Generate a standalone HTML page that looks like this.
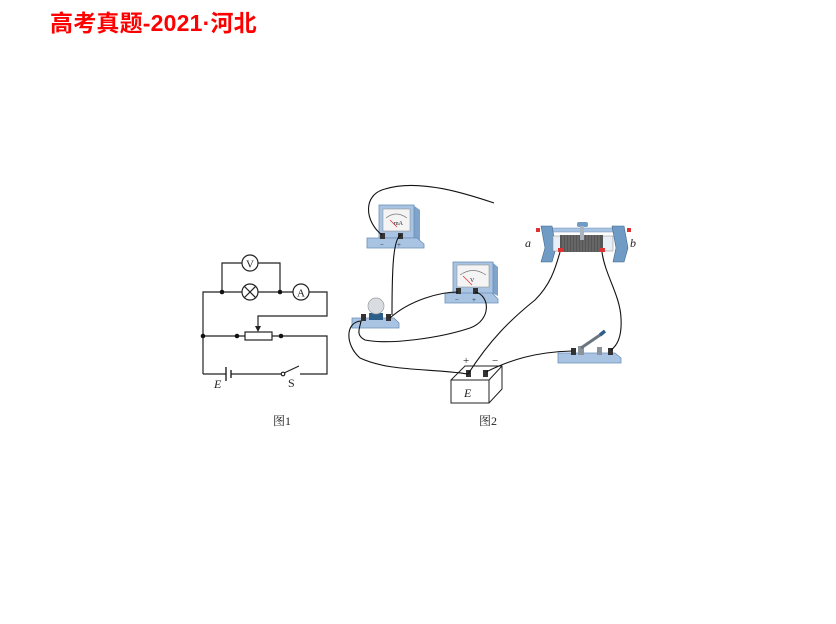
<!DOCTYPE html>
<html><head><meta charset="utf-8"><style>
html,body{margin:0;padding:0;background:#fff;width:836px;height:624px;overflow:hidden}
</style></head><body>
<svg width="836" height="624" viewBox="0 0 836 624" xmlns="http://www.w3.org/2000/svg" font-family="'Liberation Serif','Noto Serif CJK SC',serif">
<text x="50" y="31" font-family="'Liberation Sans','Noto Sans CJK SC',sans-serif" font-weight="bold" font-size="23" letter-spacing="0.2" fill="#ff0000">高考真题-2021·河北</text>

<!-- Figure 1 -->
<g stroke="#222" stroke-width="1.2" fill="none">
<path d="M222 292 V263 H242 M258 263 H280 V292"/>
<circle cx="250" cy="263" r="8" fill="#fff"/>
<path d="M203 374 V292 H242 M258 292 H293 M309 292 H327 V316 H258 V328"/>
<circle cx="250" cy="292" r="8" fill="#fff"/>
<path d="M244.5 286.5 L255.5 297.5 M255.5 286.5 L244.5 297.5"/>
<circle cx="301" cy="292" r="8" fill="#fff"/>
<path d="M203 336 H245 M272 336 H327 V374 H300 M283 374 H231 M226 374 H203"/>
<rect x="245" y="332" width="27" height="8" fill="#fff"/>
<path d="M226 367 V381 M231 370 V378" stroke-width="1.4"/>
<path d="M284 373 L299 366"/>
<circle cx="283" cy="374" r="1.8" fill="#fff"/>
</g>
<path d="M255 326 L261 326 L258 332 Z" fill="#222"/>
<g fill="#111">
<circle cx="222" cy="292" r="2.3"/><circle cx="280" cy="292" r="2.3"/>
<circle cx="203" cy="336" r="2.3"/><circle cx="237" cy="336" r="2.3"/><circle cx="281" cy="336" r="2.3"/>
</g>
<text x="250" y="267.5" font-size="11" text-anchor="middle" fill="#222">V</text>
<text x="301" y="296.5" font-size="11" text-anchor="middle" fill="#222">A</text>
<text x="214" y="388" font-size="12" font-style="italic" fill="#222">E</text>
<text x="288" y="387" font-size="12" fill="#222">S</text>
<text x="273" y="425" font-size="12" fill="#222">图1</text>

<!-- Figure 2 -->
<g>
<path d="M413 205 L420 210 L420 240 L413 237 Z" fill="#7fa3c9"/>
<rect x="379" y="205" width="35" height="33" fill="#a9c4e2" stroke="#6b8fb8" stroke-width="0.8"/>
<rect x="383" y="209" width="27" height="22" fill="#f4f4f4" stroke="#888" stroke-width="0.5"/>
<path d="M386 218 Q396 210 407 218" stroke="#777" fill="none" stroke-width="0.7"/>
<text x="394" y="225" font-size="6" fill="#222">mA</text>
<path d="M390 220 L397 227" stroke="#d33" stroke-width="0.8"/>
<path d="M367 238 L417 238 L424 244 L424 248 L367 248 Z" fill="#a9c4e2" stroke="#6b8fb8" stroke-width="0.8"/>
<rect x="380" y="233" width="5" height="6" fill="#333"/><rect x="398" y="233" width="5" height="6" fill="#333"/>
<text x="380" y="247" font-size="7" fill="#222">−</text><text x="397" y="247" font-size="7" fill="#222">+</text>
</g>
<g>
<path d="M492 262 L498 267 L498 296 L492 293 Z" fill="#7fa3c9"/>
<rect x="453" y="262" width="40" height="32" fill="#a9c4e2" stroke="#6b8fb8" stroke-width="0.8"/>
<rect x="457" y="265" width="32" height="22" fill="#f4f4f4" stroke="#888" stroke-width="0.5"/>
<path d="M460 275 Q473 266 486 275" stroke="#777" fill="none" stroke-width="0.7"/>
<text x="470" y="282" font-size="6" fill="#222">V</text>
<path d="M463 276 L472 285" stroke="#d33" stroke-width="0.8"/>
<path d="M445 293 L492 293 L498 299 L498 303 L445 303 Z" fill="#a9c4e2" stroke="#6b8fb8" stroke-width="0.8"/>
<rect x="456" y="288" width="5" height="6" fill="#333"/><rect x="473" y="288" width="5" height="6" fill="#333"/>
<text x="455" y="302" font-size="7" fill="#222">−</text><text x="472" y="302" font-size="7" fill="#222">+</text>
</g>
<g>
<path d="M352 318 L394 318 L399 323 L399 328 L352 328 Z" fill="#a9c4e2" stroke="#6b8fb8" stroke-width="0.8"/>
<rect x="369" y="313" width="14" height="7" fill="#2e5f8a"/>
<circle cx="376" cy="306" r="8" fill="#d9dde2" stroke="#999" stroke-width="0.7"/>
<rect x="361" y="314" width="5" height="7" fill="#333"/><rect x="386" y="314" width="5" height="7" fill="#333"/>
</g>
<g>
<rect x="545" y="228" width="78" height="4" fill="#a9c4e2" stroke="#6b8fb8" stroke-width="0.5"/>
<path d="M541 226 L552 226 L556 248 L552 262 L541 262 L545 248 Z" fill="#6f9bc4" stroke="#3d6991" stroke-width="0.6"/>
<path d="M612 226 L624 226 L628 248 L624 262 L613 262 L616 248 Z" fill="#6f9bc4" stroke="#3d6991" stroke-width="0.6"/>
<rect x="553" y="236" width="60" height="15" fill="#e8eef5" stroke="#888" stroke-width="0.5"/>
<rect x="560" y="235" width="43" height="17" fill="#555"/>
<g stroke="#999" stroke-width="0.5">
<path d="M563 235V252M566 235V252M569 235V252M572 235V252M575 235V252M578 235V252M581 235V252M584 235V252M587 235V252M590 235V252M593 235V252M596 235V252M599 235V252"/>
</g>
<rect x="577" y="222" width="11" height="5" rx="2" fill="#6f9bc4"/>
<rect x="580" y="226" width="4" height="14" fill="#a9b4c0"/>
<rect x="536" y="228" width="4" height="4" fill="#d33"/><rect x="627" y="228" width="4" height="4" fill="#d33"/>
<rect x="558" y="248" width="5" height="4" fill="#d33"/><rect x="600" y="248" width="5" height="4" fill="#d33"/>
</g>
<text x="525" y="247" font-size="12" font-style="italic" fill="#222">a</text>
<text x="630" y="247" font-size="12" font-style="italic" fill="#222">b</text>
<g>
<path d="M558 353 L615 353 L621 358 L621 363 L558 363 Z" fill="#a9c4e2" stroke="#6b8fb8" stroke-width="0.8"/>
<rect x="571" y="348" width="5" height="7" fill="#333"/><rect x="608" y="348" width="5" height="7" fill="#333"/>
<rect x="578" y="346" width="6" height="9" fill="#8a939c"/><rect x="597" y="347" width="5" height="8" fill="#8a939c"/>
<path d="M581 348 L603 333" stroke="#6b7680" stroke-width="3"/>
<path d="M600 335 L605 331" stroke="#2e5f8a" stroke-width="3.5"/>
</g>
<g stroke="#222" stroke-width="1" fill="#fff">
<path d="M451 380 L465 366 L502 366 L502 389 L489 403"/>
<path d="M489 380 L502 366"/>
<rect x="451" y="380" width="38" height="23"/>
</g>
<rect x="466" y="370" width="5" height="7" fill="#333"/><rect x="483" y="370" width="5" height="7" fill="#333"/>
<text x="463" y="364" font-size="11" fill="#222">+</text>
<text x="492" y="364" font-size="11" fill="#222">−</text>
<text x="464" y="397" font-size="12" font-style="italic" fill="#222">E</text>
<text x="479" y="425" font-size="12" fill="#222">图2</text>

<g stroke="#111" stroke-width="1.1" fill="none">
<path d="M382 235 C365 222 362 195 385 189 C420 178 470 195 494 203"/>
<path d="M401 235 C393 238 392 270 392 315"/>
<path d="M390 318 C410 300 440 292 458 292"/>
<path d="M475 292 C490 295 492 320 470 328 C440 338 390 345 365 340 C355 335 360 328 361 321"/>
<path d="M361 321 C345 322 345 345 360 358 C390 372 430 368 468 374"/>
<path d="M468 374 C490 340 510 320 535 300 C550 285 555 270 560 252"/>
<path d="M486 372 C510 360 535 352 572 351"/>
<path d="M602 252 C605 275 620 295 621 318 C622 335 618 345 611 350"/>
</g>
</svg>
</body></html>
